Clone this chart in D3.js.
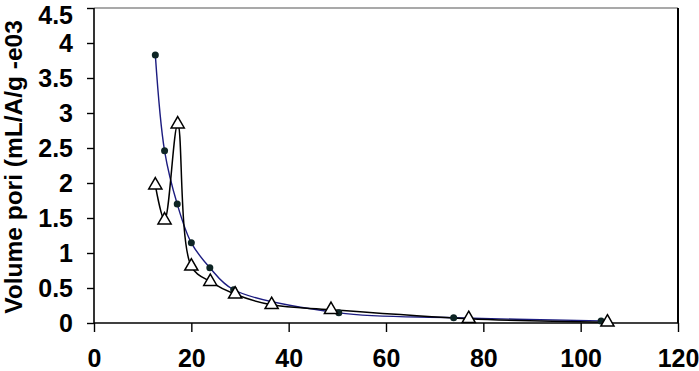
<!DOCTYPE html>
<html>
<head>
<meta charset="utf-8">
<script src="https://cdn.jsdelivr.net/npm/d3@7"></script>
<style>
  body { margin: 0; background: #fff; }
  svg text { font-family: "Liberation Sans", Arial, sans-serif; font-weight: bold; fill: #000; }
</style>
</head>
<body>
<div id="chart"></div>
<script>
// series with round markers (blue line)
var dotX = [12.6, 14.5, 17.1, 20.0, 23.8, 28.7, 50.3, 73.9, 104.2];
var dotY = [3.83, 2.46, 1.70, 1.145, 0.79, 0.475, 0.145, 0.076, 0.03];

// series with triangle markers (black line)
var triX = [12.6, 14.5, 17.2, 20.0, 23.9, 29.0, 36.5, 48.7, 77.0, 105.5];
var triY = [1.97, 1.47, 2.84, 0.81, 0.59, 0.41, 0.26, 0.19, 0.06, 0.01];

var xTicks = [0, 20, 40, 60, 80, 100, 120];
var yTicks = [0, 0.5, 1, 1.5, 2, 2.5, 3, 3.5, 4, 4.5];
var yTitle = "Volume pori (mL/A/g -e03";

var WIDTH = 699,
    HEIGHT = 371,
    MARGINS = {top: 8, right: 21, bottom: 48, left: 94};

var svg = d3.select("#chart").append("svg")
  .attr("width", WIDTH)
  .attr("height", HEIGHT);

var xScale = d3.scaleLinear().domain([0, 120]).range([MARGINS.left, WIDTH - MARGINS.right]);
var yScale = d3.scaleLinear().domain([0, 4.5]).range([HEIGHT - MARGINS.bottom, MARGINS.top]);

// frame: top and right
svg.append("line")
  .attr("x1", MARGINS.left).attr("x2", WIDTH - MARGINS.right)
  .attr("y1", MARGINS.top).attr("y2", MARGINS.top)
  .attr("stroke", "#555").attr("stroke-width", 1.2);
svg.append("line")
  .attr("x1", WIDTH - MARGINS.right).attr("x2", WIDTH - MARGINS.right)
  .attr("y1", MARGINS.top).attr("y2", HEIGHT - MARGINS.bottom)
  .attr("stroke", "#000").attr("stroke-width", 2);

var xAxis = d3.axisBottom(xScale).tickValues(xTicks).tickSize(9).tickPadding(17).tickFormat(d3.format("d"));
var yAxis = d3.axisLeft(yScale).tickValues(yTicks).tickSize(7).tickPadding(14).tickFormat(function(d) { return String(d); });

var gx = svg.append("g")
  .attr("class", "x axis")
  .attr("transform", "translate(0," + (HEIGHT - MARGINS.bottom) + ")")
  .call(xAxis);
var gy = svg.append("g")
  .attr("class", "y axis")
  .attr("transform", "translate(" + MARGINS.left + ",0)")
  .call(yAxis);

[gx, gy].forEach(function(g) {
  g.select(".domain").attr("stroke", "#000").attr("stroke-width", 1.6);
  g.selectAll(".tick line").attr("stroke", "#000").attr("stroke-width", 1.4);
  g.selectAll(".tick text")
    .attr("font-size", 25)
    .attr("font-family", "'Liberation Sans', Arial, sans-serif")
    .attr("font-weight", "bold")
    .attr("fill", "#000");
});
gx.select(".domain").attr("d", "M" + MARGINS.left + ",0H" + (WIDTH - MARGINS.right));
gy.select(".domain").attr("d", "M0," + (HEIGHT - MARGINS.bottom) + "V" + MARGINS.top);

// top label pushed down so it stays inside the picture
gy.selectAll(".tick text").filter(function(d) { return d === 4.5; }).attr("dy", "0.62em");

svg.append("text")
  .attr("transform", "translate(22," + 167 + ") rotate(-90)")
  .attr("text-anchor", "middle")
  .attr("font-size", 24.5)
  .text(yTitle);

var dotData = dotX.map(function(x, i) { return {x: x, y: dotY[i]}; });
var triData = triX.map(function(x, i) { return {x: x, y: triY[i]}; });

var lineFunc = d3.line()
  .x(function(d) { return xScale(d.x); })
  .y(function(d) { return yScale(d.y); })
  .curve(d3.curveCatmullRom.alpha(0.5));

svg.append("path")
  .attr("d", lineFunc(dotData))
  .attr("stroke", "#1c1c80")
  .attr("stroke-width", 1.4)
  .attr("fill", "none");

svg.append("path")
  .attr("d", lineFunc(triData))
  .attr("stroke", "#000")
  .attr("stroke-width", 1.5)
  .attr("fill", "none");

svg.selectAll(".dot")
  .data(dotData)
  .enter().append("circle")
  .attr("class", "dot")
  .attr("r", 3.5)
  .attr("cx", function(d) { return xScale(d.x); })
  .attr("cy", function(d) { return yScale(d.y); })
  .attr("fill", "#0d2424");

var tri = d3.symbol().type(d3.symbolTriangle).size(75);
svg.selectAll(".tri")
  .data(triData)
  .enter().append("path")
  .attr("class", "tri")
  .attr("d", tri)
  .attr("transform", function(d) { return "translate(" + xScale(d.x) + "," + yScale(d.y) + ")"; })
  .attr("fill", "#fff")
  .attr("stroke", "#000")
  .attr("stroke-width", 1.5);
</script>
</body>
</html>
